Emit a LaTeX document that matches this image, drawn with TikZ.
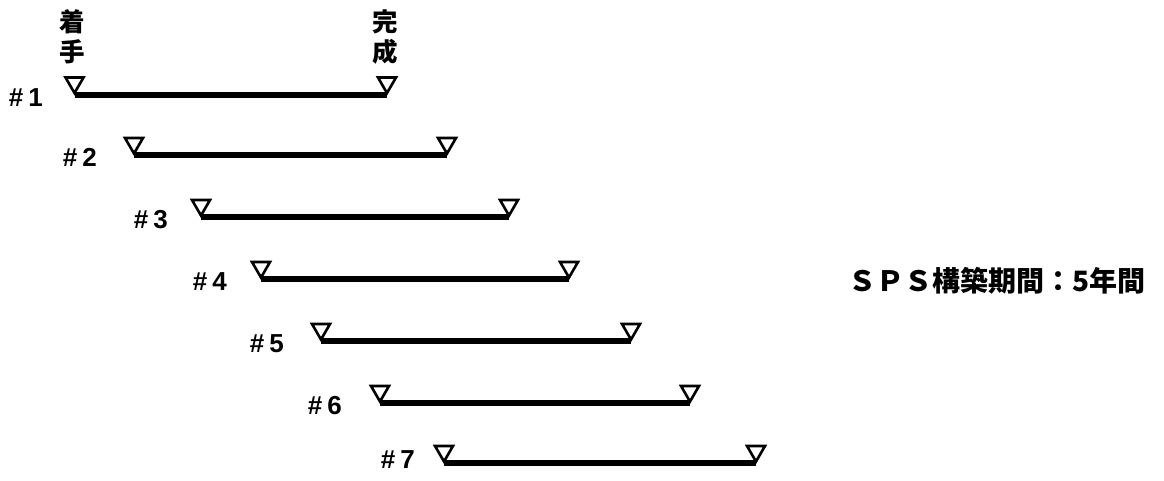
\documentclass[tikz,border=0pt]{standalone}
\usepackage{fontspec}
\setmainfont{Liberation Sans}
\newfontfamily\cjk{Noto Sans CJK JP}
\usetikzlibrary{calc}
\tikzset{
  bar/.style={line width=6pt},
  tri/.style={line width=2.6pt, line join=miter},
  rowlabel/.style={font=\fontsize{26}{30}\selectfont\bfseries, inner sep=0pt, anchor=base east},
  jplabel/.style={font=\cjk\bfseries\fontsize{25.5}{30}\selectfont, inner sep=0pt, anchor=base},
  note/.style={font=\cjk\bfseries\fontsize{28}{32}\selectfont, inner sep=0pt, anchor=base west},
}
\newcommand{\mytri}[1]{\draw[tri] ($(#1)+(-9,-17)$) -- ($(#1)+(9,-17)$) -- ($(#1)+(0,-1.5)$) -- cycle;}
\begin{document}
\begin{tikzpicture}[x=1pt,y=-1pt]
\useasboundingbox (0,0) rectangle (1164,480);
% row coordinates
\coordinate (s1) at (74.5,94.5);  \coordinate (e1) at (387,94.5);
\coordinate (s2) at (134,155);    \coordinate (e2) at (447,155);
\coordinate (s3) at (201,217);    \coordinate (e3) at (509,217);
\coordinate (s4) at (261,279);    \coordinate (e4) at (569,279);
\coordinate (s5) at (321,341);    \coordinate (e5) at (631,341);
\coordinate (s6) at (380,403);    \coordinate (e6) at (690,403);
\coordinate (s7) at (444,463);    \coordinate (e7) at (756,463);
\foreach \i in {1,...,7}{
  \draw[bar] (s\i) -- (e\i);
  \mytri{s\i}
  \mytri{e\i}
}
% row labels
\node[rowlabel] (l1) at (43,106)  {\#\kern5pt1};
\node[rowlabel] (l2) at (97,166)  {\#\kern5pt2};
\node[rowlabel] (l3) at (168,228) {\#\kern5pt3};
\node[rowlabel] (l4) at (227,290) {\#\kern5pt4};
\node[rowlabel] (l5) at (284,352) {\#\kern5pt5};
\node[rowlabel] (l6) at (342,414) {\#\kern5pt6};
\node[rowlabel] (l7) at (415,468) {\#\kern5pt7};
% header labels
\node[jplabel] (chaku) at (72.5,31) {着};
\node[jplabel] (shu)   at (72.5,61) {手};
\node[jplabel] (kan)   at (385,31)  {完};
\node[jplabel] (sei)   at (385,61)  {成};
% note
\node[note] (sps) at (848,291) {ＳＰＳ構築期間：5年間};
\end{tikzpicture}
\end{document}
